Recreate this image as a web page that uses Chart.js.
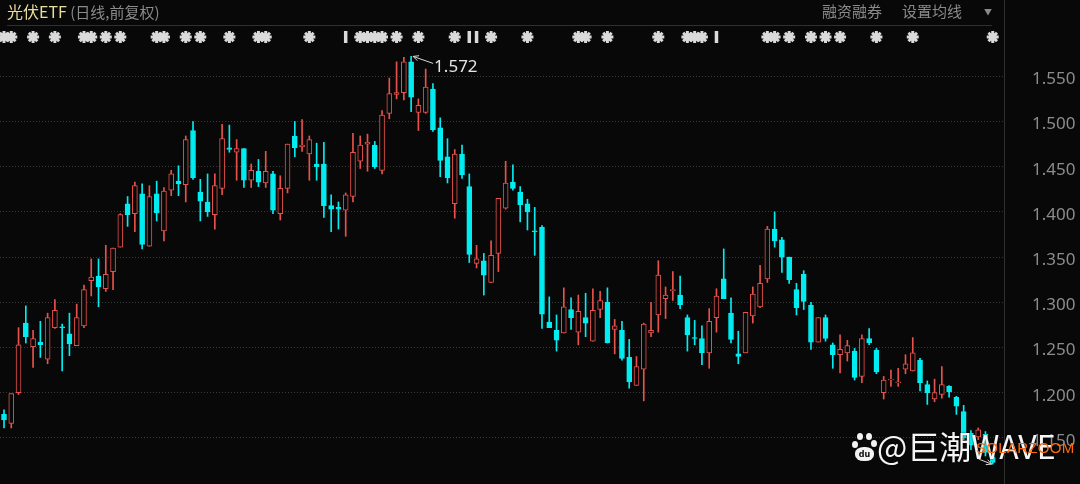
<!DOCTYPE html>
<html><head><meta charset="utf-8">
<script src="https://cdn.jsdelivr.net/npm/chart.js@4.4.1/dist/chart.umd.min.js"></script>
<style>
html,body{margin:0;padding:0;background:#080808;overflow:hidden}
#wrap{position:relative;width:1080px;height:484px;background:#080808;font-family:'Noto Sans CJK SC','Noto Sans',sans-serif}
#c{position:absolute;left:0;top:0}
.t{position:absolute;white-space:nowrap;font-size:15px;line-height:20px;color:#8a8a8a}
.ln{position:absolute;background:#303030}
.toe{position:absolute;background:#f2f2f2;border-radius:50%}
</style></head><body>
<div id="wrap">
<canvas id="c" width="1080" height="484"></canvas>
<div class="t" style="left:7px;top:1px"><span style="color:#eadc9c;font-size:16px">光伏ETF</span> (日线,前复权)</div>
<div class="t" style="left:822px;top:1px">融资融券</div>
<div class="t" style="left:902px;top:1px">设置均线</div>
<div class="t" style="left:984px;top:2px;font-size:8px">▼</div>
<div class="ln" style="left:7px;top:25px;width:985px;height:1px"></div>
<div class="ln" style="left:1004px;top:0px;width:1px;height:484px"></div>
<!-- watermark -->
<div class="toe" style="left:852px;top:441px;width:6px;height:7px"></div>
<div class="toe" style="left:857px;top:433px;width:6px;height:7px"></div>
<div class="toe" style="left:866px;top:433px;width:6px;height:7px"></div>
<div class="toe" style="left:871px;top:440px;width:6px;height:7px"></div>
<div class="toe" style="left:855px;top:447px;width:19px;height:14px;border-radius:45%;color:#080808;font:bold 8px 'DejaVu Sans',sans-serif;text-align:center;line-height:16px">du</div>
<div class="t" style="left:877px;top:422px;font-size:32px;line-height:46px;color:#f4f4f4;text-shadow:0 0 2px rgba(0,0,0,0.7)">@巨潮WAVE</div>
<div class="t" style="left:976px;top:438px;font:15px 'Liberation Sans',sans-serif;line-height:20px;color:#ff6a10;letter-spacing:0.3px">SOLARZOOM</div>
</div>
<script>
// ---- data (one candle per trading day) ----
const open = [
1.176,1.166,1.200,1.277,1.251,1.256,1.237,1.272,1.273,1.265,
1.252,1.274,1.324,1.329,1.315,1.334,1.361,1.409,1.398,1.420,
1.362,1.420,1.379,1.424,1.434,1.430,1.490,1.422,1.411,1.397,
1.426,1.471,1.466,1.470,1.435,1.445,1.432,1.442,1.398,1.426,
1.484,1.472,1.464,1.453,1.453,1.407,1.405,1.402,1.417,1.456,
1.475,1.474,1.446,1.509,1.530,1.532,1.566,1.510,1.510,1.536,
1.493,1.461,1.409,1.464,1.428,1.343,1.346,1.322,1.354,1.404,
1.433,1.422,1.409,1.379,1.383,1.278,1.269,1.266,1.292,1.267,
1.283,1.257,1.292,1.300,1.270,1.269,1.239,1.208,1.226,1.266,
1.286,1.304,1.313,1.308,1.283,1.261,1.260,1.244,1.283,1.326,
1.288,1.243,1.244,1.285,1.295,1.326,1.381,1.369,1.350,1.314,
1.331,1.297,1.256,1.283,1.253,1.242,1.244,1.246,1.218,1.260,
1.247,1.200,1.214,1.211,1.226,1.224,1.236,1.209,1.193,1.198,
1.207,1.195,1.179,1.155,1.151,1.154,1.129];
const high = [
1.181,1.199,1.272,1.296,1.269,1.279,1.288,1.303,1.276,1.288,
1.298,1.319,1.348,1.348,1.363,1.360,1.398,1.417,1.433,1.431,
1.429,1.434,1.427,1.446,1.451,1.484,1.500,1.436,1.442,1.442,
1.497,1.496,1.480,1.470,1.453,1.458,1.467,1.445,1.440,1.475,
1.500,1.502,1.484,1.476,1.477,1.419,1.411,1.421,1.487,1.484,
1.486,1.478,1.512,1.548,1.566,1.571,1.572,1.525,1.558,1.542,
1.504,1.481,1.469,1.474,1.442,1.363,1.354,1.368,1.415,1.456,
1.452,1.428,1.414,1.405,1.385,1.306,1.286,1.316,1.305,1.308,
1.310,1.315,1.312,1.316,1.281,1.279,1.259,1.240,1.277,1.300,
1.346,1.317,1.334,1.329,1.286,1.280,1.274,1.293,1.315,1.359,
1.305,1.268,1.289,1.317,1.341,1.384,1.400,1.372,1.350,1.321,
1.335,1.300,1.283,1.286,1.255,1.264,1.258,1.249,1.264,1.271,
1.249,1.218,1.225,1.227,1.242,1.261,1.238,1.213,1.215,1.229,
1.208,1.196,1.186,1.158,1.161,1.157,1.131];
const low = [
1.161,1.161,1.198,1.255,1.228,1.239,1.232,1.271,1.224,1.241,
1.252,1.272,1.307,1.295,1.312,1.314,1.361,1.384,1.378,1.359,
1.362,1.390,1.368,1.418,1.418,1.411,1.436,1.390,1.395,1.381,
1.419,1.466,1.435,1.427,1.427,1.428,1.427,1.398,1.391,1.421,
1.461,1.467,1.435,1.435,1.394,1.378,1.381,1.373,1.411,1.448,
1.445,1.448,1.442,1.503,1.525,1.524,1.511,1.490,1.509,1.489,
1.439,1.432,1.393,1.437,1.344,1.338,1.308,1.322,1.334,1.403,
1.424,1.389,1.380,1.352,1.271,1.272,1.246,1.266,1.270,1.253,
1.262,1.257,1.283,1.255,1.243,1.236,1.205,1.208,1.191,1.262,
1.267,1.282,1.302,1.293,1.246,1.253,1.231,1.227,1.267,1.304,
1.255,1.232,1.244,1.277,1.294,1.322,1.361,1.333,1.321,1.286,
1.292,1.248,1.256,1.257,1.227,1.222,1.235,1.214,1.211,1.253,
1.221,1.193,1.207,1.207,1.221,1.224,1.202,1.187,1.190,1.194,
1.195,1.176,1.148,1.137,1.148,1.130,1.121];
const close = [
1.170,1.199,1.253,1.262,1.260,1.253,1.283,1.291,1.272,1.254,
1.283,1.314,1.328,1.317,1.331,1.360,1.397,1.397,1.429,1.364,
1.417,1.399,1.423,1.442,1.431,1.480,1.438,1.412,1.400,1.429,
1.481,1.469,1.470,1.435,1.446,1.433,1.445,1.402,1.426,1.475,
1.471,1.474,1.480,1.450,1.407,1.403,1.403,1.419,1.466,1.474,
1.477,1.450,1.507,1.531,1.532,1.566,1.527,1.518,1.538,1.491,
1.457,1.438,1.464,1.441,1.353,1.348,1.330,1.352,1.415,1.432,
1.426,1.408,1.400,1.378,1.287,1.272,1.258,1.295,1.283,1.290,
1.277,1.291,1.302,1.255,1.274,1.238,1.212,1.229,1.276,1.269,
1.330,1.308,1.314,1.297,1.264,1.260,1.244,1.279,1.307,1.304,
1.259,1.240,1.289,1.309,1.321,1.381,1.368,1.350,1.325,1.294,
1.301,1.256,1.283,1.260,1.242,1.248,1.252,1.217,1.260,1.255,
1.223,1.214,1.215,1.212,1.232,1.244,1.211,1.200,1.200,1.209,
1.201,1.185,1.150,1.142,1.159,1.134,1.123];
const days = open.map((_, i) => i + 1);            // trading-day numbers
const yTicks = [1.15, 1.20, 1.25, 1.30, 1.35, 1.40, 1.45, 1.50, 1.55];
const starDays = [1,2,5,8,12,13,15,17,22,23,26,28,32,36,37,43,50,51,52,53,55,58,63,68,73,80,81,84,91,95,96,97,106,107,109,112,114,116,121,126,137];
const daggerDays = [48,65,66,99];
const markerLevel = 1.5935;

// ---- styling ----
const BG = '#080808', UP = '#e8524c', DOWN = '#00eef2', MARK = '#dadada';
const isUp = days.map((_, i) => close[i] > open[i]);

const wickData = days.map((d, i) => ({x: d, y: [low[i], high[i]]}));
const bodyData = days.map((d, i) => ({x: d, y: [Math.min(open[i], close[i]), Math.max(open[i], close[i])]}));

const extremes = {
  id: 'extremes',
  afterDatasetsDraw(chart) {
    const {ctx, scales: {x, y}} = chart;
    let hi = 0, lo = 0;
    high.forEach((v, i) => { if (v > high[hi]) hi = i; });
    low.forEach((v, i) => { if (v < low[lo]) lo = i; });
    const arrow = (tx, ty, fx, fy) => {
      ctx.beginPath(); ctx.moveTo(fx, fy); ctx.lineTo(tx, ty);
      const a = Math.atan2(fy - ty, fx - tx);
      ctx.moveTo(tx + 6 * Math.cos(a + 0.45), ty + 6 * Math.sin(a + 0.45));
      ctx.lineTo(tx, ty);
      ctx.lineTo(tx + 6 * Math.cos(a - 0.45), ty + 6 * Math.sin(a - 0.45));
      ctx.stroke();
    };
    ctx.save();
    ctx.strokeStyle = '#d8d8d8'; ctx.lineWidth = 1;
    const hx = x.getPixelForValue(days[hi]) + 2, hy = y.getPixelForValue(high[hi]);
    arrow(hx, hy, hx + 20, hy + 7);
    ctx.fillStyle = '#e4e4e4';
    ctx.font = '17px "Noto Sans", sans-serif';
    ctx.textBaseline = 'middle';
    ctx.fillText(high[hi].toFixed(3), hx + 21, hy + 11);
    const lx = x.getPixelForValue(days[lo]) - 1, ly = y.getPixelForValue(low[lo]);
    arrow(lx, ly, lx - 13, ly - 5);
    ctx.restore();
  }
};

new Chart(document.getElementById('c'), {
  type: 'bar',
  data: {
    datasets: [
      { type: 'scatter', data: starDays.map(d => ({x: d, y: markerLevel})), pointStyle: 'star', radius: 6,
        borderColor: MARK, borderWidth: 3, backgroundColor: MARK, order: 0 },
      { type: 'scatter', data: starDays.map(d => ({x: d, y: markerLevel})), pointStyle: 'circle', radius: 3.4,
        borderWidth: 0, backgroundColor: MARK, order: 0 },
      { type: 'scatter', data: daggerDays.map(d => ({x: d, y: markerLevel})), pointStyle: 'line', rotation: 90, radius: 6,
        borderColor: MARK, borderWidth: 3.5, order: 0 },
      { data: bodyData, grouped: false, barThickness: 5, borderWidth: 1, borderSkipped: false,
        backgroundColor: c => isUp[c.dataIndex] ? BG : DOWN,
        borderColor: c => isUp[c.dataIndex] ? UP : DOWN, order: 1 },
      { data: wickData, grouped: false, barThickness: 1, borderWidth: 0,
        backgroundColor: c => isUp[c.dataIndex] ? UP : DOWN, order: 2 }
    ]
  },
  options: {
    responsive: false, devicePixelRatio: 1, animation: false, events: [],
    layout: { autoPadding: false, padding: { top: 28, bottom: 0, left: 0, right: 0 } },
    plugins: { legend: { display: false }, tooltip: { enabled: false } },
    scales: {
      x: { type: 'linear', min: 0.45, max: 138.55, display: false, offset: false },
      y: {
        position: 'right',
        min: 1.55 - (484 - 76.3) / 904, max: 1.55 + (76.3 - 28) / 904,
        afterBuildTicks: s => { s.ticks = yTicks.map(v => ({value: v})); },
        afterFit: s => { s.width = 76; s.paddingTop = 0; s.paddingBottom = 0; },
        grid: { color: '#3a3a3a', lineWidth: 1, drawTicks: false },
        border: { display: false, dash: [1, 2] },
        ticks: { color: '#8c8c8c', padding: 28, labelOffset: 3, font: { family: '"Noto Sans", sans-serif', size: 17 },
          callback: v => Number(v).toFixed(3) }
      }
    }
  },
  plugins: [extremes]
});
</script>
</body></html>
